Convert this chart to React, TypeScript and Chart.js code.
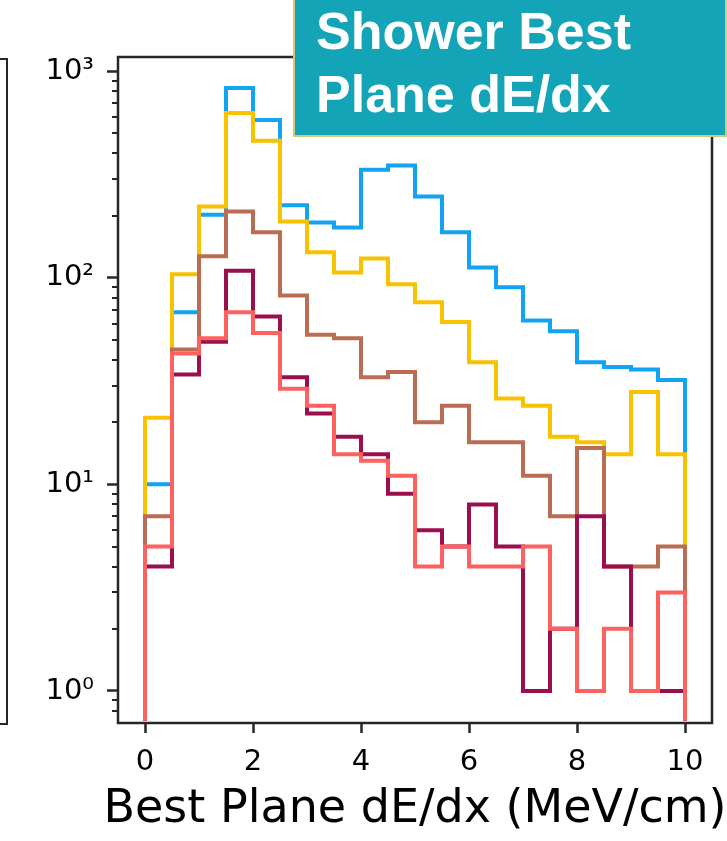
import React, { useEffect, useRef } from "react";
import { Chart, registerables } from "chart.js";

Chart.register(...registerables);

// Bin edges of the histogram (MeV/cm)
const BIN_EDGES = [0, 0.5, 1, 1.5, 2, 2.5, 3, 3.5, 4, 4.5, 5, 5.5, 6, 6.5, 7, 7.5, 8, 8.5, 9, 9.5, 10];

// Counts per bin for each sample
const BLUE = [10, 68, 202, 828, 580, 224, 185, 175, 333, 349, 247, 166, 112, 90, 62, 55, 39, 37, 36, 32];
const YELLOW = [21, 104, 221, 627, 460, 187, 133, 106, 124, 93, 76, 61, 39, 26, 24, 17, 16, 14, 28, 14];
const BROWN = [7, 45, 127, 209, 166, 82, 53, 51, 33, 35, 20, 24, 16, 16, 11, 7, 15, 4, 4, 5];
const MAROON = [4, 34, 49, 108, 65, 33, 22, 17, 14, 9, 6, 5, 8, 5, 1, 2, 7, 4, 1, 1];
const SALMON = [5, 43, 51, 68, 54, 29, 24, 14, 13, 11, 4, 5, 4, 4, 5, 2, 1, 2, 1, 3];

// drawn in this order: first is at the bottom, last on top
const SERIES = [
  { name: "blue", values: BLUE, color: "#12a3f3" },
  { name: "yellow", values: YELLOW, color: "#f8c200" },
  { name: "brown", values: BROWN, color: "#b96e53" },
  { name: "maroon", values: MAROON, color: "#9a0f4e" },
  { name: "salmon", values: SALMON, color: "#ff6060" },
];

// Axis ticks
const X_TICKS = [0, 2, 4, 6, 8, 10];
const Y_MAJOR = [1, 10, 100, 1000];
const Y_LABELS = ["10\u2070", "10\u00b9", "10\u00b2", "10\u00b3"];
const Y_MINOR = [0.8, 0.9, 2, 3, 4, 5, 6, 7, 8, 9, 20, 30, 40, 50, 60, 70, 80, 90, 200, 300, 400, 500, 600, 700, 800, 900];

const X_MIN = -0.5;
const X_MAX = 10.5;
const Y_MIN = 0.72;
const Y_MAX = 1170;

const X_TITLE = "Best Plane dE/dx (MeV/cm)";
const BOX_LINES = ["Shower Best", "Plane dE/dx"];

const FRAME = "#262626";

const framePlugin = {
  id: "frameAndMinorTicks",
  afterDraw(chart: any) {
    const { ctx, chartArea: a } = chart;
    const y = chart.scales.y;
    ctx.save();
    ctx.strokeStyle = FRAME;
    ctx.lineWidth = 2;
    Y_MINOR.forEach((v) => {
      const py = Math.round(y.getPixelForValue(v));
      ctx.beginPath();
      ctx.moveTo(a.left - 6, py);
      ctx.lineTo(a.left, py);
      ctx.stroke();
    });
    ctx.lineWidth = 2.5;
    ctx.strokeRect(a.left, a.top, a.right - a.left, a.bottom - a.top);
    // x-axis title (drawn without width squeezing)
    ctx.fillStyle = "#000";
    ctx.font = "46px 'DejaVu Sans'";
    ctx.textAlign = "center";
    ctx.textBaseline = "alphabetic";
    ctx.fillText(X_TITLE, (a.left + a.right) / 2, a.bottom + 99);
    ctx.restore();
  },
};

function histPoints(values: number[]) {
  const pts = [{ x: BIN_EDGES[0], y: Y_MIN }];
  values.forEach((v, i) => pts.push({ x: BIN_EDGES[i], y: v }));
  pts.push({ x: BIN_EDGES[BIN_EDGES.length - 1], y: Y_MIN });
  return pts;
}

export default function App() {
  const ref = useRef<HTMLCanvasElement | null>(null);

  useEffect(() => {
    if (!ref.current) return;
    const chart = new Chart(ref.current, {
      type: "line",
      data: {
        datasets: SERIES.map((s, i) => ({
          label: s.name,
          data: histPoints(s.values),
          order: SERIES.length - i,
          borderColor: s.color,
          backgroundColor: s.color,
          borderWidth: 4,
          pointRadius: 0,
          pointHoverRadius: 0,
          stepped: "before" as const,
          fill: false,
          borderJoinStyle: "miter" as const,
          borderCapStyle: "butt" as const,
        })),
      },
      options: {
        responsive: false,
        animation: false,
        events: [],
        layout: { padding: { left: 0, right: 15, top: 57, bottom: 0 } },
        plugins: {
          legend: { display: false },
          tooltip: { enabled: false },
          title: { display: false },
        },
        scales: {
          x: {
            type: "linear",
            min: X_MIN,
            max: X_MAX,
            offset: false,
            afterBuildTicks: (scale: any) => {
              scale.ticks = X_TICKS.map((v) => ({ value: v }));
            },
            afterFit: (scale: any) => {
              scale.height = 118;
            },
            grid: {
              display: true,
              drawOnChartArea: false,
              drawTicks: true,
              tickLength: 10,
              tickWidth: 2.5,
              tickColor: FRAME,
            },
            border: { display: false },
            ticks: {
              color: "#000",
              padding: 12,
              maxRotation: 0,
              autoSkip: false,
              font: { family: "DejaVu Sans", size: 29 },
              callback: (v: any) => String(v),
            },
            title: { display: false },
          },
          y: {
            type: "logarithmic",
            min: Y_MIN,
            max: Y_MAX,
            afterBuildTicks: (scale: any) => {
              scale.ticks = Y_MAJOR.map((v) => ({ value: v, major: true }));
            },
            afterFit: (scale: any) => {
              scale.width = 118;
            },
            grid: {
              display: true,
              drawOnChartArea: false,
              drawTicks: true,
              tickLength: 11,
              tickWidth: 2.5,
              tickColor: FRAME,
            },
            border: { display: false },
            ticks: {
              color: "#000",
              padding: 13,
              autoSkip: false,
              font: { family: "DejaVu Sans", size: 29 },
              callback: (v: any) => {
                const i = Y_MAJOR.indexOf(Number(v));
                return i >= 0 ? Y_LABELS[i] : "";
              },
            },
          },
        },
      },
      plugins: [framePlugin],
    });
    return () => chart.destroy();
  }, []);

  return (
    <div style={{ position: "absolute", left: 0, top: 0, width: 727, height: 841, overflow: "hidden", background: "#fff" }}>
      <canvas ref={ref} width={727} height={841} style={{ position: "absolute", left: 0, top: 0 }} />
      <div
        style={{
          position: "absolute",
          left: 0,
          top: 58,
          width: 6,
          height: 663,
          borderTop: `2.5px solid ${FRAME}`,
          borderRight: `2.5px solid ${FRAME}`,
          borderBottom: `2.5px solid ${FRAME}`,
        }}
      />
      <div
        style={{
          position: "absolute",
          left: 293,
          top: -2,
          width: 434,
          border: "2px solid #d5c77c",
          background: "#14a4b8",
          color: "#fff",
          fontFamily: "'Liberation Sans', Arial, sans-serif",
          fontWeight: "bold",
          fontSize: 52,
          lineHeight: "63px",
          padding: "0 0 9px 21px",
          boxSizing: "border-box",
          whiteSpace: "nowrap",
        }}
      >
        {BOX_LINES.map((l) => (
          <div key={l}>{l}</div>
        ))}
      </div>
    </div>
  );
}
